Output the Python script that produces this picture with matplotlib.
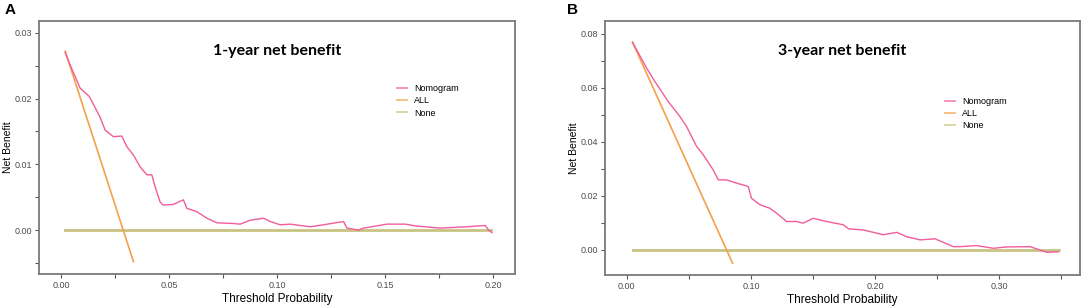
import matplotlib
matplotlib.use("Agg")
import matplotlib.pyplot as plt
from matplotlib.ticker import MultipleLocator

# Panel A: 1-year decision curve
a_nomo_x = [0.0019, 0.0042, 0.0088, 0.0131, 0.0180, 0.0204, 0.0242, 0.0281, 0.0304, 0.0335,
            0.0366, 0.0397, 0.0420, 0.0435, 0.0458, 0.0472, 0.0520, 0.0566, 0.0582, 0.0628,
            0.0675, 0.0721, 0.0798, 0.0829, 0.0875, 0.0937, 0.0968, 0.1014, 0.1060, 0.1153,
            0.1214, 0.1307, 0.1323, 0.1376, 0.1400, 0.1508, 0.1593, 0.1647, 0.1755, 0.1878,
            0.1963, 0.1978, 0.1994]
a_nomo_y = [0.0270, 0.0251, 0.0216, 0.0203, 0.0172, 0.0152, 0.0142, 0.0143, 0.0127, 0.0114,
            0.0096, 0.0084, 0.0084, 0.0066, 0.0043, 0.0038, 0.0039, 0.0046, 0.0033, 0.0028,
            0.0018, 0.0011, 0.0010, 0.0009, 0.0015, 0.0018, 0.0013, 0.0008, 0.0009, 0.0005,
            0.0008, 0.0013, 0.0003, 0.0000, 0.0003, 0.0009, 0.0009, 0.0006, 0.0003, 0.0005,
            0.0007, 0.0000, -0.0004]
a_all_x = [0.0019, 0.0335]
a_all_y = [0.0272, -0.0048]
a_none_x = [0.0019, 0.1990]
a_none_y = [0.0, 0.0]

# Panel B: 3-year decision curve
b_nomo_x = [0.0046, 0.0159, 0.0226, 0.0306, 0.0333, 0.0427, 0.0481, 0.0562, 0.0616, 0.0696,
            0.0737, 0.0804, 0.0884, 0.0978, 0.1005, 0.1073, 0.1153, 0.1207, 0.1288, 0.1368,
            0.1422, 0.1503, 0.1610, 0.1745, 0.1787, 0.1906, 0.2067, 0.2175, 0.2255, 0.2363,
            0.2484, 0.2632, 0.2685, 0.2820, 0.2955, 0.3062, 0.3250, 0.3385, 0.3479]
b_nomo_y = [0.0768, 0.0673, 0.0623, 0.0568, 0.0549, 0.0494, 0.0457, 0.0383, 0.0352, 0.0296,
            0.0259, 0.0259, 0.0247, 0.0235, 0.0191, 0.0167, 0.0154, 0.0136, 0.0105, 0.0105,
            0.0099, 0.0117, 0.0105, 0.0093, 0.0078, 0.0074, 0.0056, 0.0065, 0.0049, 0.0037,
            0.0041, 0.0012, 0.0012, 0.0016, 0.0006, 0.0011, 0.0012, -0.0009, -0.0007]
b_all_x = [0.0046, 0.0852]
b_all_y = [0.0768, -0.0049]
b_none_x = [0.0046, 0.3480]
b_none_y = [0.0, 0.0]

legend_labels = ["Nomogram", "ALL", "None"]
colors = ["#f25c9c", "#f5a04a", "#c8c382"]

plt.rcParams['font.family'] = ['Liberation Sans', 'DejaVu Sans']

fig = plt.figure(figsize=(10.84, 3.08), dpi=100)
ax_a = fig.add_axes([0.036, 0.110, 0.439, 0.822])
ax_b = fig.add_axes([0.558, 0.107, 0.438, 0.825])

panels = [
    (ax_a, "A", 0.004, "1-year net benefit", a_nomo_x, a_nomo_y, a_all_x, a_all_y, a_none_x, a_none_y,
     (-0.0102, 0.210), (-0.0067, 0.0318), 0.05, 0.01, (0.752, 0.75)),
    (ax_b, "B", 0.523, "3-year net benefit", b_nomo_x, b_nomo_y, b_all_x, b_all_y, b_none_x, b_none_y,
     (-0.0177, 0.365), (-0.0093, 0.0847), 0.10, 0.02, (0.716, 0.70)),
]

for (ax, tag, tag_x, title, nx, ny, ax_x, ax_y, nox, noy, xlim, ylim, xstep, ystep, leg_pos) in panels:
    ax.plot(nox, noy, color=colors[2], lw=2.0, label=legend_labels[2], zorder=1)
    ax.plot(ax_x, ax_y, color=colors[1], lw=1.2, label=legend_labels[1], zorder=2)
    ax.plot(nx, ny, color=colors[0], lw=1.0, label=legend_labels[0], zorder=3)
    ax.set_xlim(*xlim)
    ax.set_ylim(*ylim)
    ax.xaxis.set_major_locator(MultipleLocator(xstep))
    ax.yaxis.set_major_locator(MultipleLocator(ystep))
    ax.xaxis.set_minor_locator(MultipleLocator(xstep / 2))
    ax.yaxis.set_minor_locator(MultipleLocator(ystep / 2))
    ax.xaxis.set_major_formatter(plt.FormatStrFormatter('%.2f'))
    ax.yaxis.set_major_formatter(plt.FormatStrFormatter('%.2f'))
    ax.tick_params(which='both', direction='out', length=3, width=0.8, color='#555555',
                   labelsize=6.5, labelcolor='#4d4d4d', pad=2)
    for s in ax.spines.values():
        s.set_color('#7a7a7a')
        s.set_linewidth(1.3)
    ax.set_xlabel("Threshold Probability", fontsize=8.5, labelpad=2)
    ax.set_ylabel("Net Benefit", fontsize=7.5, labelpad=1)
    ax.text(0.5, 0.88, title, transform=ax.transAxes, ha='center', va='center',
            fontsize=11.5, fontweight='bold', family='Lato')
    fig.text(tag_x, 0.99, tag, ha='left', va='top', fontsize=11, fontweight='bold')
    handles, labels = ax.get_legend_handles_labels()
    order = [2, 1, 0]
    leg = ax.legend([handles[i] for i in order], [labels[i] for i in order],
                    loc='upper left', bbox_to_anchor=leg_pos, frameon=False,
                    fontsize=6.5, handlelength=1.1, handletextpad=0.8,
                    labelspacing=0.35, borderpad=0, borderaxespad=0)
    for line in leg.get_lines():
        line.set_linewidth(1.2)
        line.set_alpha(0.8)

fig.savefig("out.png", dpi=100)
